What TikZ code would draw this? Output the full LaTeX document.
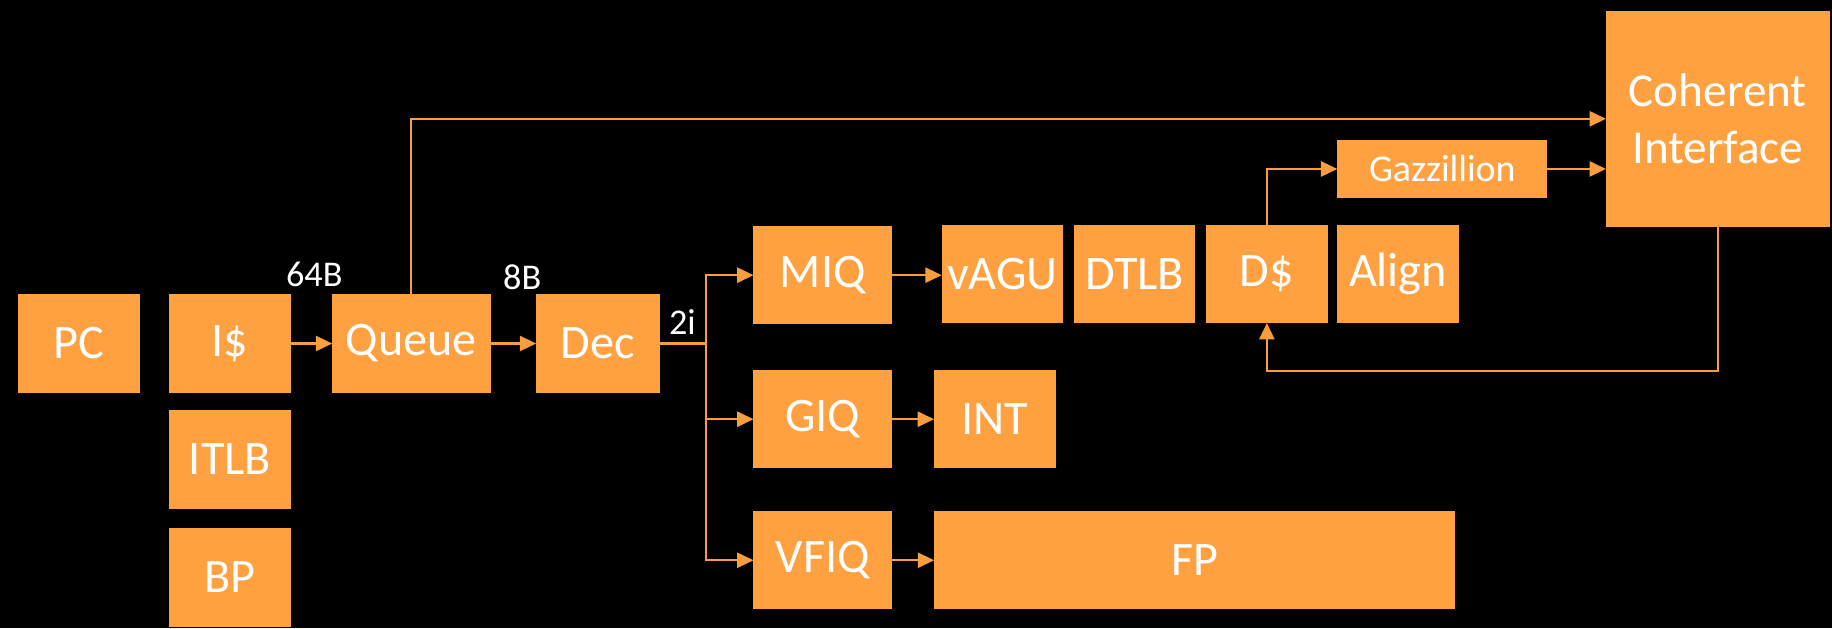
\documentclass[tikz,border=0pt]{standalone}
\usepackage{fontspec}
\setmainfont{Carlito}
\usetikzlibrary{arrows.meta}
\definecolor{orng}{HTML}{FFA140}
\definecolor{lineorng}{HTML}{F99E3E}
\tikzset{
  blk/.style={fill=orng, text=white, inner sep=0pt, outer sep=0pt, minimum height=42pt, font=\fontsize{20.6}{24}\selectfont},
  conn/.style={draw=lineorng, line width=0.9pt, -{Triangle[length=7pt,width=6.5pt]}},
  plain/.style={draw=lineorng, line width=0.9pt},
  lbl/.style={text=white, inner sep=0pt, font=\fontsize{15.5}{18}\selectfont}
}
\begin{document}
\begin{tikzpicture}[x=0.5pt,y=-0.5pt]
\path[fill=black] (0,0) rectangle (1568,537.5);
\useasboundingbox (0,0) rectangle (1568,537.5);
% front end
\node[blk, minimum width=52.2pt] (pc) at (67.5,294) {PC};
\node[blk, minimum width=52pt] (is) at (196.8,294) {I\$};
\node[blk, minimum width=52pt, minimum height=42.2pt] (itlb) at (196.8,393.2) {ITLB};
\node[blk, minimum width=52pt, minimum height=42.2pt] (bp) at (196.8,494.1) {BP};
\node[blk, minimum width=67.8pt] (queue) at (352.1,294) {Queue};
\node[blk, minimum width=52.8pt] (dec) at (511.7,294) {Dec};
% issue queues
\node[blk, minimum width=59.3pt] (miq) at (704.2,235.5) {MIQ};
\node[blk, minimum width=59.3pt] (giq) at (704.2,358.8) {GIQ};
\node[blk, minimum width=59.3pt] (vfiq) at (704.2,479.5) {VFIQ};
% memory pipe
\node[blk, minimum width=52pt, minimum height=41.8pt] (vagu) at (858,234.7) {vAGU};
\node[blk, minimum width=52pt, minimum height=41.8pt] (dtlb) at (971,234.7) {DTLB};
\node[blk, minimum width=52.3pt, minimum height=41.8pt] (ds) at (1084.3,234.7) {D\$};
\node[blk, minimum width=52pt, minimum height=41.8pt] (aln) at (1196.5,234.7) {Align};
\node[blk, minimum width=89.9pt, minimum height=24.6pt, font=\fontsize{16.2}{19}\selectfont] (gaz) at (1234.5,144.6) {Gazzillion};
\node[blk, minimum width=95.7pt, minimum height=92.3pt, align=center, font=\fontsize{20.2}{24.5}\selectfont] (ci) at (1470.2,101.7) {Coherent\\Interface};
% execution
\node[blk, minimum width=52.1pt] (int) at (851.5,358.8) {INT};
\node[blk, minimum width=223pt] (fp) at (1022.5,479.5) {FP};
% labels
\node[lbl] (l64) at (269,235) {64B};
\node[lbl] (l8) at (447,237) {8B};
\node[lbl] (l2) at (584,276) {2i};
% connectors
\coordinate (tr) at (604.2,294);
\coordinate (fb) at (1470.2,317.5);
\draw[conn] (is.east) -- (queue.west);
\draw[conn] (queue.east) -- (dec.west);
\draw[plain] (dec.east) -- (tr);
\draw[conn] (tr) |- (miq.west);
\draw[conn] (tr) |- (giq.west);
\draw[conn] (tr) |- (vfiq.west);
\draw[conn] (miq.east) -- (miq.east -| vagu.west);
\draw[conn] (giq.east) -- (int.west);
\draw[conn] (vfiq.east) -- (fp.west);
\draw[conn] (queue.north) |- (ci.west);
\draw[conn] (ds.north) |- (gaz.west);
\draw[conn] (gaz.east) -- (gaz.east -| ci.west);
\draw[conn] (ci.south) -- (fb) -| (ds.south);
\end{tikzpicture}
\end{document}
